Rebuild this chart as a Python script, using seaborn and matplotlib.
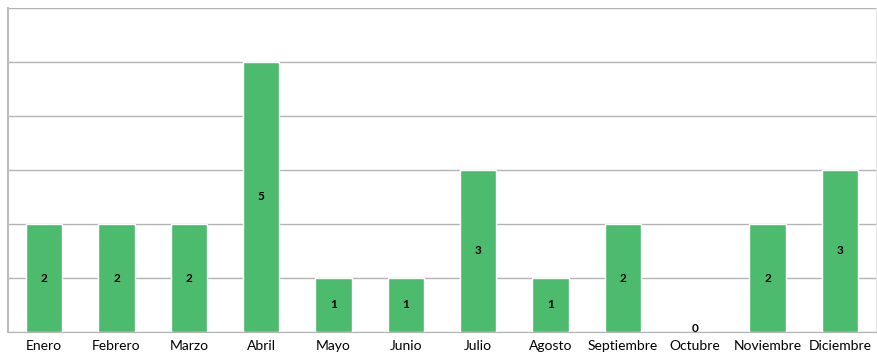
import pandas as pd
import matplotlib.pyplot as plt
import seaborn as sns
import numpy as np

meses = ['Enero', 'Febrero', 'Marzo', 'Abril', 'Mayo', 'Junio', 'Julio',
         'Agosto', 'Septiembre', 'Octubre', 'Noviembre', 'Diciembre']
valores = [2, 2, 2, 5, 1, 1, 3, 1, 2, 0, 2, 3]

df = pd.DataFrame({'Mes': meses, 'Valor': valores})

sns.set_style('white')
plt.rcParams['font.family'] = ['Lato', 'DejaVu Sans']

fig = plt.figure(figsize=(8.77, 3.64), dpi=100)
ax = fig.add_axes([8 / 877, 32 / 364, 868 / 877, 324 / 364])

sns.barplot(data=df, x='Mes', y='Valor', color='#4dbb6e', saturation=1,
            width=0.5, ax=ax, zorder=3)

ax.set_ylim(0, 6)
ax.set_xlim(-0.5, 11.5)
ax.set_yticks(np.arange(0, 7))
ax.set_yticklabels([])
ax.tick_params(axis='y', length=0)
ax.grid(axis='y', color='#b3b3b3', linewidth=1, zorder=0)
ax.set_xlabel('')
ax.set_ylabel('')

# marcas entre categorias
ax.set_xticks(np.arange(12))
ax.tick_params(axis='x', length=0, labelsize=10, pad=6, colors='black')
ax.set_xticks(np.arange(-0.5, 12, 1), minor=True)
ax.tick_params(axis='x', which='minor', length=5, color='#b3b3b3', direction='out')

ax.spines['top'].set_visible(False)
ax.spines['right'].set_color('#e3e3e3')
ax.spines['left'].set_color('#bdbdbd')
ax.spines['left'].set_linewidth(1.5)
ax.spines['bottom'].set_color('#b3b3b3')

for i, v in enumerate(valores):
    y = v / 2 if v > 0 else 0.06
    ax.text(i, y, str(v), ha='center', va='center', fontsize=8.5,
            fontweight='bold', color='black', zorder=4)

fig.savefig('out.png', dpi=100)
